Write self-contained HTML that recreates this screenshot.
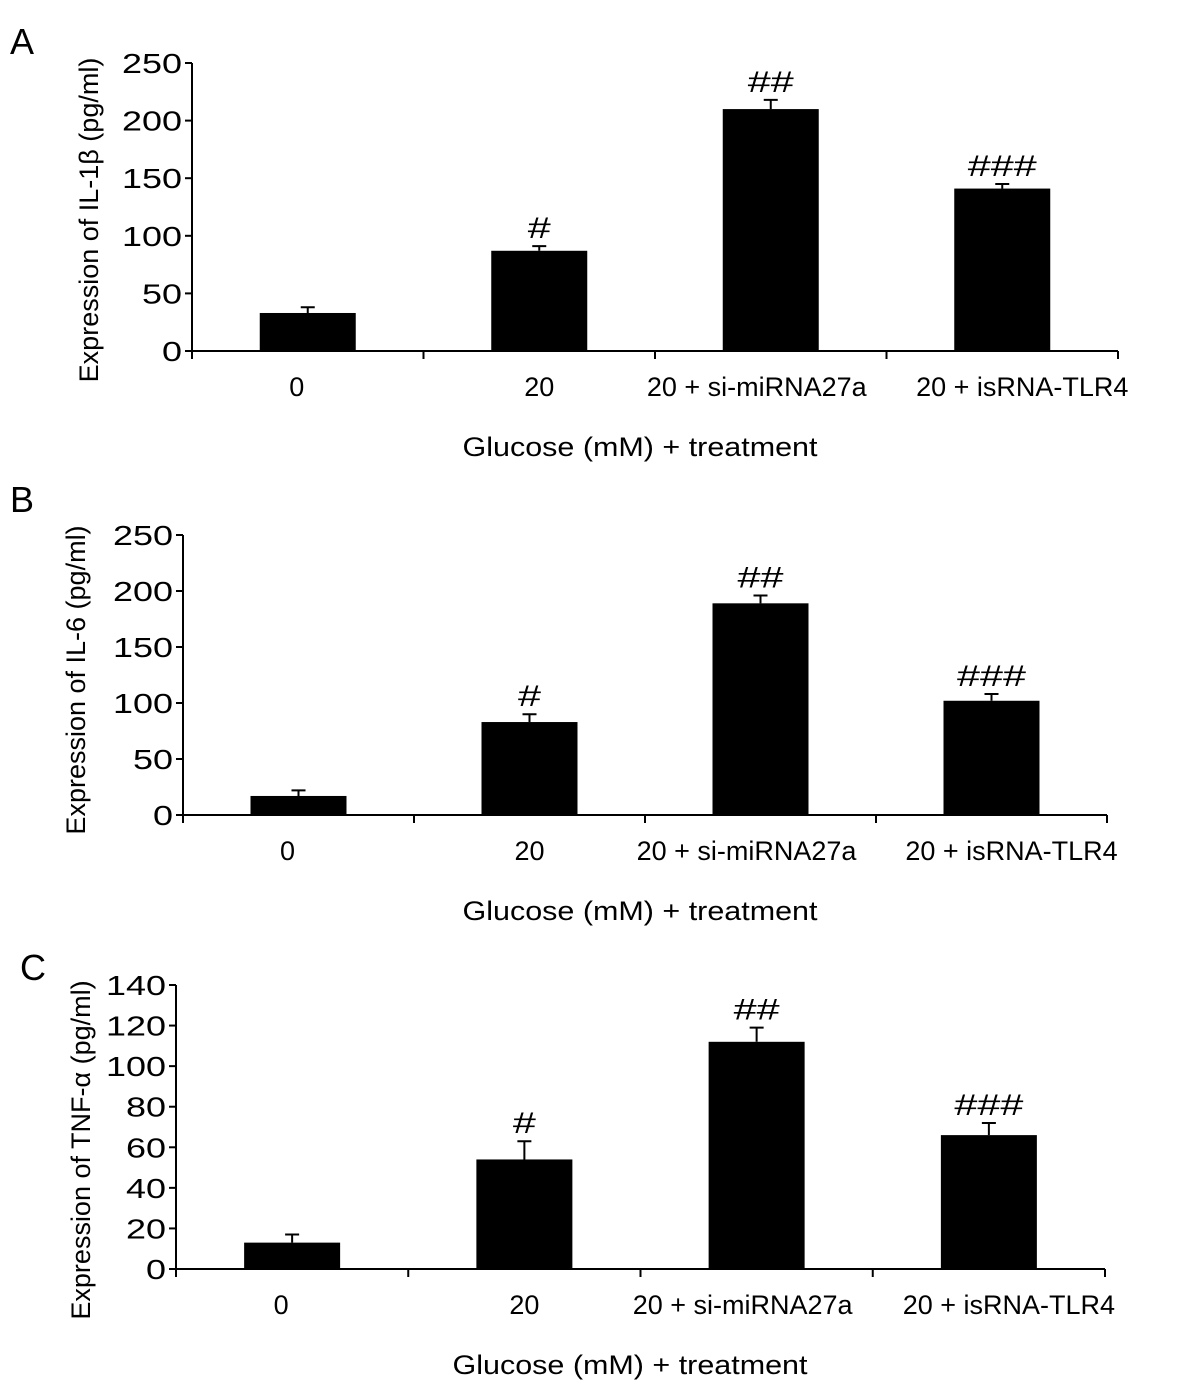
<!DOCTYPE html>
<html><head><meta charset="utf-8"><style>
body{margin:0;background:#fff}
svg{display:block}
text{fill:#000}
.tick{font-family:"Liberation Sans",Arial,sans-serif;font-size:28px}
.hash{font-family:"Liberation Sans",Arial,sans-serif;font-size:30px}
.cat{font-family:"Liberation Sans",sans-serif;font-size:27px}
.ttl{font-family:"Liberation Sans",sans-serif;font-size:27px}
.let{font-family:"Liberation Sans",sans-serif;font-size:36px}
</style></head><body>
<svg id="chart" width="1181" height="1396" viewBox="0 0 1181 1396" xmlns="http://www.w3.org/2000/svg"></svg>
<script>
const categories = ["0","20","20 + si-miRNA27a","20 + isRNA-TLR4"];
const marks = ["","#","##","###"];
const valuesA = [33,87,210,141];
const errorsA = [5,4,8,4];
const valuesB = [17,83,189,102];
const errorsB = [5,7,7,6];
const valuesC = [13,54,112,66];
const errorsC = [4,9,7,6];
const ticksA = [0,50,100,150,200,250];
const ticksB = [0,50,100,150,200,250];
const ticksC = [0,20,40,60,80,100,120,140];
const NS="http://www.w3.org/2000/svg";
const svg=document.getElementById('chart');
const labelShift=[-11,0,-14,20];
function mk(tag,attrs,parent,text){const e=document.createElementNS(NS,tag);for(const k in attrs)e.setAttribute(k,attrs[k]);if(text!==undefined)e.textContent=text;(parent||svg).appendChild(e);return e;}
function panel(p){
  const g=mk('g',{});
  
  
  const y=v=>p.y0-(v/p.max)*(p.y0-p.ytop);
  const bw=(p.x1-p.x0)/categories.length;
  const xc=i=>p.x0+bw*(i+0.5);
  const l=mk('text',{x:p.lx,y:p.ly,class:'let'},g,p.id);
  
  
  const ya=mk('line',{x1:p.x0,y1:p.ytop,x2:p.x0,y2:p.y0,stroke:'#000','stroke-width':2},g);
  
  
  const xa=mk('line',{x1:p.x0,y1:p.y0,x2:p.x1,y2:p.y0,stroke:'#000','stroke-width':2},g);
  
  
  p.ticks.forEach(t=>{
    mk('line',{x1:p.x0-7,y1:y(t),x2:p.x0,y2:y(t),stroke:'#000','stroke-width':2},g);
    const s=String(t);
    const tl=mk('text',{x:p.x0-10,y:y(t)+10,class:'tick','text-anchor':'end',textLength:s.length*20,lengthAdjust:'spacingAndGlyphs'},g,s);
    
    
  });
  for(let i=0;i<=categories.length;i++){mk('line',{x1:p.x0+bw*i,y1:p.y0,x2:p.x0+bw*i,y2:p.y0+8,stroke:'#000','stroke-width':2},g);}
  p.vals.forEach((v,i)=>{
    const bar=mk('rect',{x:xc(i)-48,y:y(v),width:96,height:p.y0-y(v),fill:'#000'},g);
    
    
    const top=y(v+p.errs[i]);
    const eb=mk('path',{d:`M${xc(i)} ${y(v)}V${top}M${xc(i)-7} ${top}H${xc(i)+7}`,stroke:'#000','stroke-width':2,fill:'none'},g);
    
    
    if(marks[i]){
      const m=mk('text',{x:xc(i),y:top-8,class:'hash','text-anchor':'middle',textLength:marks[i].length*23,lengthAdjust:'spacingAndGlyphs'},g,marks[i]);
      
      
    }
    const cl=mk('text',{x:xc(i)+labelShift[i],y:p.y0+45,class:'cat','text-anchor':'middle'},g,categories[i]);
    
    
  });
  const xt=mk('text',{x:p.xtx,y:p.y0+105,class:'ttl','text-anchor':'middle',textLength:355,lengthAdjust:'spacingAndGlyphs'},g,'Glucose (mM) + treatment');
  
  
  const yt=mk('text',{x:0,y:0,class:'ttl','text-anchor':'middle',transform:`translate(${p.ytx},${p.yty}) rotate(-90)`},g,p.ytitle);
  
  
}
panel({id:'A',lx:10,ly:54,x0:192,x1:1118,y0:351,ytop:63,max:250,vals:valuesA,errs:errorsA,ticks:ticksA,xtx:640,ytx:98,yty:220,ytitle:'Expression of IL-1β (pg/ml)'});
panel({id:'B',lx:10,ly:512,x0:183,x1:1107,y0:815,ytop:535,max:250,vals:valuesB,errs:errorsB,ticks:ticksB,xtx:640,ytx:85,yty:680,ytitle:'Expression of IL-6 (pg/ml)'});
panel({id:'C',lx:20,ly:980,x0:176,x1:1105,y0:1269,ytop:985,max:140,vals:valuesC,errs:errorsC,ticks:ticksC,xtx:630,ytx:90,yty:1150,ytitle:'Expression of TNF-α (pg/ml)'});
</script>
</body></html>
